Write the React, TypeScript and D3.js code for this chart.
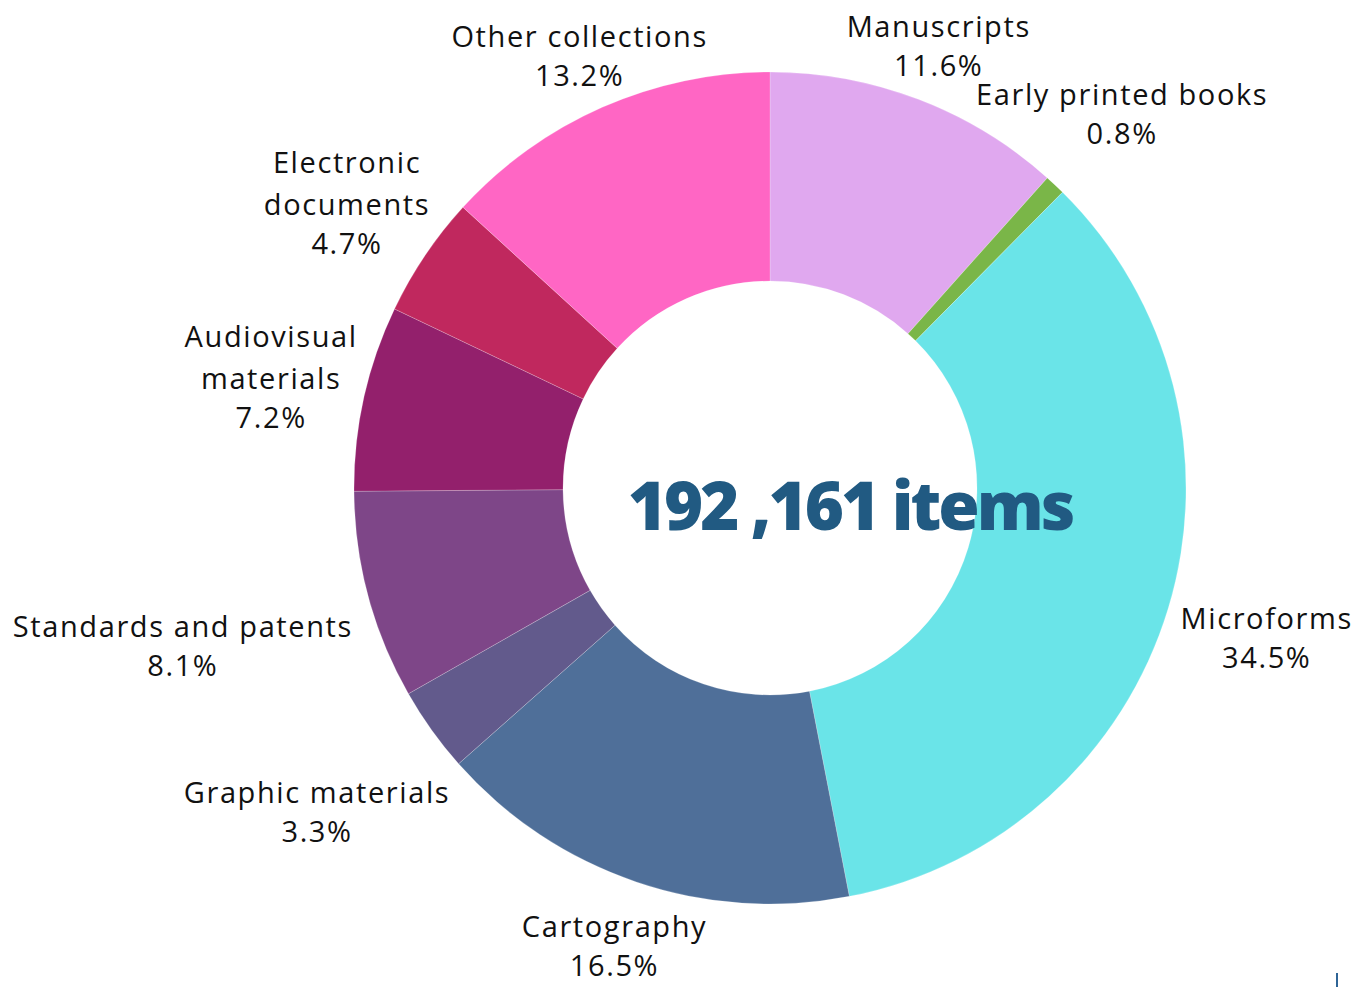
import React, { useRef, useEffect } from 'react';
import * as d3 from 'd3';

// collection shares, clockwise from 12 o'clock
const categories = [
  'Manuscripts',
  'Early printed books',
  'Microforms',
  'Cartography',
  'Graphic materials',
  'Standards and patents',
  'Audiovisual materials',
  'Electronic documents',
  'Other collections',
];
const shares = [11.6, 0.8, 34.5, 16.5, 3.3, 8.1, 7.2, 4.7, 13.2];
const colors = ['#e0a8ef', '#7ab648', '#6ae4e8', '#4f6f99', '#625a8c', '#7e4688', '#93206c', '#c0285e', '#ff66c4'];
// how the label text is wrapped
const labelLines = [
  ['Manuscripts'],
  ['Early printed books'],
  ['Microforms'],
  ['Cartography'],
  ['Graphic materials'],
  ['Standards and patents'],
  ['Audiovisual', 'materials'],
  ['Electronic', 'documents'],
  ['Other collections'],
];
const totalLabel = '192 ,161 items';

// distance of each label block centre from the donut centre
const labelDist = [473, 514, 519, 484, 557, 608, 511, 510, 472];

export default function App() {
  const svgRef = useRef<SVGSVGElement>(null);

  useEffect(() => {
    if (!svgRef.current) return;
    document.body.style.margin = '0';

    d3.select(svgRef.current).selectAll('*').remove();

    const width = 1369;
    const height = 987;
    const cx = 770;
    const cy = 488;
    const outerR = 416;
    const innerR = 207;

    const svg = d3.select(svgRef.current)
      .attr('width', width)
      .attr('height', height)
      .attr('viewBox', `0 0 ${width} ${height}`);

    svg.append('rect').attr('width', width).attr('height', height).attr('fill', '#fff');

    const rows = categories.map((c, i) => ({ name: c, value: shares[i], i }));

    const pie = d3.pie<typeof rows[number]>()
      .sort(null)
      .value(d => d.value);

    const arc = d3.arc<d3.PieArcDatum<typeof rows[number]>>()
      .innerRadius(innerR)
      .outerRadius(outerR);

    const arcs = pie(rows);

    const g = svg.append('g').attr('transform', `translate(${cx},${cy})`);

    g.selectAll('path')
      .data(arcs)
      .enter()
      .append('path')
      .attr('d', arc)
      .attr('fill', d => colors[d.data.i])
      .attr('stroke', '#ffffff')
      .attr('stroke-opacity', 0.35)
      .attr('stroke-width', 0.6);

    // labels: block centred along each slice's mid angle
    const fontSize = 29;
    const nameGap = 42;
    const pctGap = 39;
    const capH = 21;

    arcs.forEach((a, idx) => {
      const mid = (a.startAngle + a.endAngle) / 2;
      const dist = labelDist[idx];
      const lx = Math.sin(mid) * dist;
      const ly = -Math.cos(mid) * dist;
      const lines = labelLines[a.data.i];
      const blockH = capH + (lines.length - 1) * nameGap + pctGap;
      const firstBase = ly - blockH / 2 + capH;

      const t = g.append('text')
        .attr('text-anchor', 'middle')
        .attr('fill', '#111')
        .style('font-family', '"Open Sans", sans-serif')
        .style('font-size', `${fontSize}px`)
        .style('letter-spacing', '1.6px');

      lines.forEach((ln, k) => {
        t.append('tspan')
          .attr('x', lx)
          .attr('y', firstBase + k * nameGap)
          .text(ln);
      });
      t.append('tspan')
        .attr('x', lx)
        .attr('y', firstBase + (lines.length - 1) * nameGap + pctGap)
        .text(`${d3.format('.1f')(a.data.value)}%`);
    });

    // total in the hole
    svg.append('text')
      .attr('x', 850)
      .attr('y', 530)
      .attr('text-anchor', 'middle')
      .attr('fill', '#215a82')
      .style('font-family', '"Open Sans", sans-serif')
      .style('font-weight', '800')
      .style('font-size', '67px')
      .style('letter-spacing', '-3px')
      .text(totalLabel);

    // small stray tick bottom right
    svg.append('rect')
      .attr('x', 1336)
      .attr('y', 973)
      .attr('width', 2)
      .attr('height', 14)
      .attr('fill', '#2e6496');
  }, []);

  return (
    <div style={{ position: 'absolute', left: 0, top: 0 }}>
      <svg ref={svgRef} style={{ display: 'block' }} />
    </div>
  );
}
